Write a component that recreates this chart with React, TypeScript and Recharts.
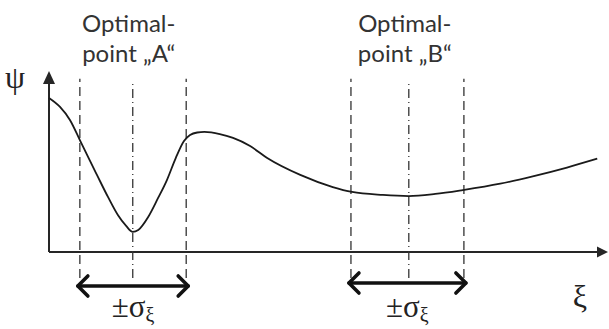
import React from 'react';
import { LineChart, Line, XAxis, YAxis, ReferenceLine } from 'recharts';

// objective function psi over the design variable xi
const XI = [0, 2.0, 3.8, 5.6, 7.4, 8.7, 10.7, 12.5, 14.0, 15.2, 16.2, 18.0, 19.8, 21.4, 23.0, 24.5, 25.6, 26.9, 28.2, 31.0, 33.4, 36.5, 39.6, 45.6, 51.5, 55.0, 60.6, 65.3, 70.1, 75.1, 81.9, 87.8, 94.0, 99.5];
const PSI = [87.5, 82.4, 75.0, 63.6, 52.0, 43.8, 31.3, 21.0, 14.8, 11.4, 12.5, 19.9, 30.7, 40.9, 53.4, 63.1, 66.5, 67.9, 68.2, 67.0, 64.8, 60.2, 53.4, 43.8, 36.9, 34.1, 32.4, 31.8, 33.0, 35.2, 38.8, 43.0, 48.0, 53.0];

// the two candidate optima and their +/- sigma band
const OPTIMUM_NAMES = ['A', 'B'];
const OPTIMUM_XI = [15.2, 65.3];
const SIGMA_LOW = [5.6, 54.8];
const SIGMA_HIGH = [24.9, 75.3];
const ARROW_PSI = [-19.3, -17.6];

const DASH_TOP = 98.5;
const DASH_BOTTOM = -14.8;
const INK = '#262626';

const AxisUp = (p: any) => {
  const x = p.x1;
  const top = Math.min(p.y1, p.y2);
  const bottom = Math.max(p.y1, p.y2);
  return (
    <g>
      <line x1={x} y1={bottom} x2={x} y2={top + 8} stroke={INK} strokeWidth={2} />
      <polygon points={`${x - 6},${top + 8} ${x + 6},${top + 8} ${x},${top - 5}`} fill={INK} />
    </g>
  );
};

const AxisRight = (p: any) => {
  const y = p.y1;
  const left = Math.min(p.x1, p.x2);
  const right = Math.max(p.x1, p.x2);
  return (
    <g>
      <line x1={left} y1={y} x2={right - 2} y2={y} stroke={INK} strokeWidth={2} />
      <polygon points={`${right - 3},${y - 5.5} ${right - 3},${y + 5.5} ${right + 8},${y}`} fill={INK} />
    </g>
  );
};

const DoubleArrow = (p: any) => {
  const y = p.y1;
  const l = Math.min(p.x1, p.x2) - 2;
  const r = Math.max(p.x1, p.x2) + 2;
  const s = 10;
  return (
    <g stroke="#111" strokeWidth={3.6} fill="none" strokeLinecap="round" strokeLinejoin="round">
      <line x1={l} y1={y} x2={r} y2={y} />
      <polyline points={`${l + s},${y - s} ${l},${y} ${l + s},${y + s}`} />
      <polyline points={`${r - s},${y - s} ${r},${y} ${r - s},${y + s}`} />
    </g>
  );
};

const sigmaLabel = (props: any) => {
  const { x, width } = props.viewBox;
  const cx = x + width / 2;
  return (
    <text x={cx} y={317} textAnchor="middle" fontFamily="'Liberation Serif', serif" fontSize={31} fill="#222">
      ±σ<tspan fontSize={20} dy={5}>ξ</tspan>
    </text>
  );
};

const titleLabel = (name: string) => (props: any) => {
  const cx = props.viewBox.x - 4;
  return (
    <text textAnchor="middle" fontFamily="Lato, sans-serif" fontSize={24} fill="#333">
      <tspan x={cx} y={32}>Optimal-</tspan>
      <tspan x={cx} y={62}>{`point „${name}“`}</tspan>
    </text>
  );
};

const psiLabel = (props: any) => (
  <text x={props.viewBox.x - 34} y={props.viewBox.y + 12} textAnchor="middle" fontFamily="'Liberation Serif', serif" fontSize={32} fill="#222">
    ψ
  </text>
);

const xiLabel = (props: any) => (
  <text x={props.viewBox.x + props.viewBox.width - 20} y={props.viewBox.y + 55} textAnchor="middle" fontFamily="'Liberation Serif', serif" fontSize={32} fill="#222">
    ξ
  </text>
);

export default function App() {
  const data = XI.map((xi, i) => ({ xi, psi: PSI[i] }));

  return (
    <div style={{ position: 'absolute', left: 0, top: 0, width: 609, height: 329, background: '#fff' }}>
      <LineChart width={609} height={329} data={data} margin={{ top: 76, right: 9, bottom: 33, left: 49 }}>
        <XAxis type="number" dataKey="xi" domain={[0, 100]} hide />
        <YAxis type="number" domain={[-25, 100]} hide />

        <ReferenceLine segment={[{ x: 0, y: 0 }, { x: 0, y: 100 }]} shape={AxisUp} label={psiLabel} />
        <ReferenceLine segment={[{ x: 0, y: 0 }, { x: 100, y: 0 }]} shape={AxisRight} label={xiLabel} />

        {OPTIMUM_XI.map((xo, i) => (
          <React.Fragment key={OPTIMUM_NAMES[i]}>
            {[SIGMA_LOW[i], xo, SIGMA_HIGH[i]].map((xv, j) => (
              <ReferenceLine
                key={j}
                segment={[{ x: xv, y: DASH_BOTTOM }, { x: xv, y: j === 1 ? DASH_TOP - 2 : DASH_TOP }]}
                stroke="#333"
                strokeWidth={1.3}
                strokeDasharray={j === 1 ? '9 4 1 4' : '9 5'}
                label={j === 1 ? titleLabel(OPTIMUM_NAMES[i]) : undefined}
              />
            ))}
            <ReferenceLine
              segment={[{ x: SIGMA_LOW[i], y: ARROW_PSI[i] }, { x: SIGMA_HIGH[i], y: ARROW_PSI[i] }]}
              shape={DoubleArrow}
              label={sigmaLabel}
            />
          </React.Fragment>
        ))}

        <Line type="monotone" dataKey="psi" stroke="#1a1a1a" strokeWidth={1.8} dot={false} activeDot={false} isAnimationActive={false} />
      </LineChart>
    </div>
  );
}
